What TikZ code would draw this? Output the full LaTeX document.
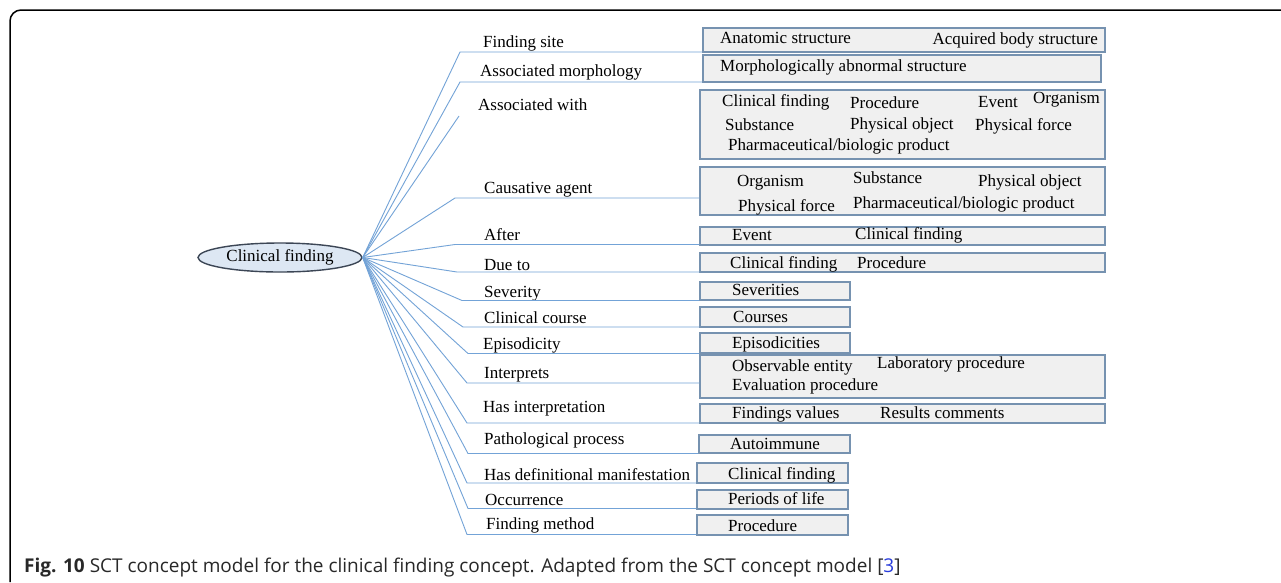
\documentclass[tikz,border=0pt]{standalone}
\usepackage{fontspec}
\setmainfont{Liberation Serif}
\newfontfamily\capfont{Open Sans}
\usetikzlibrary{fit,shapes.geometric}
\definecolor{linkblue}{RGB}{115,163,215}
\definecolor{boxfill}{RGB}{240,240,240}
\definecolor{boxline}{RGB}{118,146,176}
\definecolor{ellfill}{RGB}{221,231,243}
\definecolor{elldraw}{RGB}{60,70,85}
\definecolor{captext}{RGB}{40,40,40}
\definecolor{refblue}{RGB}{40,60,220}
\begin{document}
\begin{tikzpicture}[x=1pt,y=-1pt,
  txt/.style={inner sep=0pt, font=\fontsize{17}{19}\selectfont, text height=11pt, text depth=4pt},
  lbl/.style={txt, anchor=west},
  btxt/.style={txt, anchor=west},
  box/.style={draw=boxline, fill=boxfill, line width=1.1pt, inner sep=0pt},
  ell/.style={ellipse, draw=elldraw, fill=ellfill, line width=1.4pt, inner sep=0pt},
  link/.style={draw=linkblue, line width=0.9pt},
  frame/.style={draw=black, line width=1.5pt, rounded corners=11pt}]
\useasboundingbox (0,0) rectangle (1281,582);
\fill[white] (0,0) rectangle (1281,582);
% frame
\coordinate (fa) at (10,582);
\coordinate (fb) at (10,10);
\coordinate (fc) at (1281,10);
\draw[frame] (fa) -- (fb) -- (fc);

% central node
\node[ell, minimum width=164pt, minimum height=29pt, txt] (cf) at (280,257.5) {Clinical finding};

% boxes
\node[box, fit={(703,28) (1105,52)}] (b1) {};
\node[box, fit={(703,55) (1101,82)}] (b2) {};
\node[box, fit={(700,90) (1105,159)}] (b3) {};
\node[box, fit={(700,167) (1105,215)}] (b4) {};
\node[box, fit={(700,227) (1105,245)}] (b5) {};
\node[box, fit={(700,253) (1105,272)}] (b6) {};
\node[box, fit={(700,282) (850,300)}] (b7) {};
\node[box, fit={(700,307) (850,327)}] (b8) {};
\node[box, fit={(700,333) (850,353)}] (b9) {};
\node[box, fit={(700,355) (1105,398)}] (b10) {};
\node[box, fit={(700,404) (1105,423)}] (b11) {};
\node[box, fit={(699,435) (850,453)}] (b12) {};
\node[box, fit={(697,463) (848,483)}] (b13) {};
\node[box, fit={(697,490) (848,509)}] (b14) {};
\node[box, fit={(697,515) (848,535)}] (b15) {};

% box texts
\node[btxt] (t1a) at (720,40) {Anatomic structure};
\node[txt, anchor=east] (t1b) at (1098,41) {Acquired body structure};
\node[btxt] (t2a) at (720,68) {Morphologically abnormal structure};
\node[btxt] (t3a) at (722,103) {Clinical finding};
\node[btxt] (t3b) at (850,105) {Procedure};
\node[btxt] (t3c) at (978,104) {Event};
\node[btxt] (t3d) at (1033,100) {Organism};
\node[btxt] (t3e) at (725,127) {Substance};
\node[btxt] (t3f) at (850,126) {Physical object};
\node[btxt] (t3g) at (975,127) {Physical force};
\node[btxt] (t3h) at (728,147) {Pharmaceutical/biologic product};
\node[btxt] (t4a) at (737,183) {Organism};
\node[btxt] (t4b) at (853,180) {Substance};
\node[btxt] (t4c) at (978,183) {Physical object};
\node[btxt] (t4d) at (738,208) {Physical force};
\node[btxt] (t4e) at (853,205) {Pharmaceutical/biologic product};
\node[btxt] (t5a) at (732,237) {Event};
\node[btxt] (t5b) at (855,236) {Clinical finding};
\node[btxt] (t6a) at (730,265) {Clinical finding};
\node[btxt] (t6b) at (857,265) {Procedure};
\node[btxt] (t7) at (732,292) {Severities};
\node[btxt] (t8) at (733,319) {Courses};
\node[btxt] (t9) at (732,345) {Episodicities};
\node[btxt] (t10a) at (732,368) {Observable entity};
\node[btxt] (t10b) at (877,365) {Laboratory procedure};
\node[btxt] (t10c) at (732,387) {Evaluation procedure};
\node[btxt] (t11a) at (732,415) {Findings values};
\node[btxt] (t11b) at (880,415) {Results comments};
\node[btxt] (t12) at (730,446) {Autoimmune};
\node[btxt] (t13) at (728,476) {Clinical finding};
\node[btxt] (t14) at (728,501) {Periods of life};
\node[btxt] (t15) at (728,528) {Procedure};

% relation labels
\node[lbl] (l1) at (483,44) {Finding site};
\node[lbl] (l2) at (480,73) {Associated morphology};
\node[lbl] (l3) at (478,107) {Associated with};
\node[lbl] (l4) at (484,190) {Causative agent};
\node[lbl] (l5) at (484,237) {After};
\node[lbl] (l6) at (484,267) {Due to};
\node[lbl] (l7) at (484,294) {Severity};
\node[lbl] (l8) at (484,320) {Clinical course};
\node[lbl] (l9) at (483,346) {Episodicity};
\node[lbl] (l10) at (484,375) {Interprets};
\node[lbl] (l11) at (483,409) {Has interpretation};
\node[lbl] (l12) at (484,441) {Pathological process};
\node[lbl] (l13) at (484,477) {Has definitional manifestation};
\node[lbl] (l14) at (485,502) {Occurrence};
\node[lbl] (l15) at (486,526) {Finding method};

% bends
\coordinate (k1) at (460,52);
\coordinate (k2) at (460,82);
\coordinate (k3) at (459,116);
\coordinate (k4) at (455,198);
\coordinate (k5) at (455,244.5);
\coordinate (k6) at (457,272);
\coordinate (k7) at (462,300.5);
\coordinate (k8) at (463,327);
\coordinate (k9) at (468,353.5);
\coordinate (k10) at (467,383);
\coordinate (k11) at (467,423);
\coordinate (k12) at (468,453.5);
\coordinate (k13) at (467,483);
\coordinate (k14) at (468,508.5);
\coordinate (k15) at (467,534.5);

% connectors
\draw[link] (cf.east) -- (k1) -- (k1 -| b1.west);
\draw[link] (cf.east) -- (k2) -- (k2 -| b2.west);
\draw[link] (cf.east) -- (k3);
\draw[link] (cf.east) -- (k4) -- (k4 -| b4.west);
\draw[link] (cf.east) -- (k5) -- (k5 -| b5.west);
\draw[link] (cf.east) -- (k6) -- (k6 -| b6.west);
\draw[link] (cf.east) -- (k7) -- (k7 -| b7.west);
\draw[link] (cf.east) -- (k8) -- (k8 -| b8.west);
\draw[link] (cf.east) -- (k9) -- (k9 -| b9.west);
\draw[link] (cf.east) -- (k10) -- (k10 -| b10.west);
\draw[link] (cf.east) -- (k11) -- (k11 -| b11.west);
\draw[link] (cf.east) -- (k12) -- (k12 -| b12.west);
\draw[link] (cf.east) -- (k13) -- (k13 -| b13.west);
\draw[link] (cf.east) -- (k14) -- (k14 -| b14.west);
\draw[link] (cf.east) -- (k15) -- (k15 -| b15.west);

% caption
\node[anchor=base west, inner sep=0pt, text=captext, font=\capfont\fontsize{19}{21}\selectfont] (cap) at (24,572)
  {\textbf{Fig. 10} SCT concept model for the clinical finding concept. Adapted from the SCT concept model [\textcolor{refblue}{3}]};
\end{tikzpicture}
\end{document}
